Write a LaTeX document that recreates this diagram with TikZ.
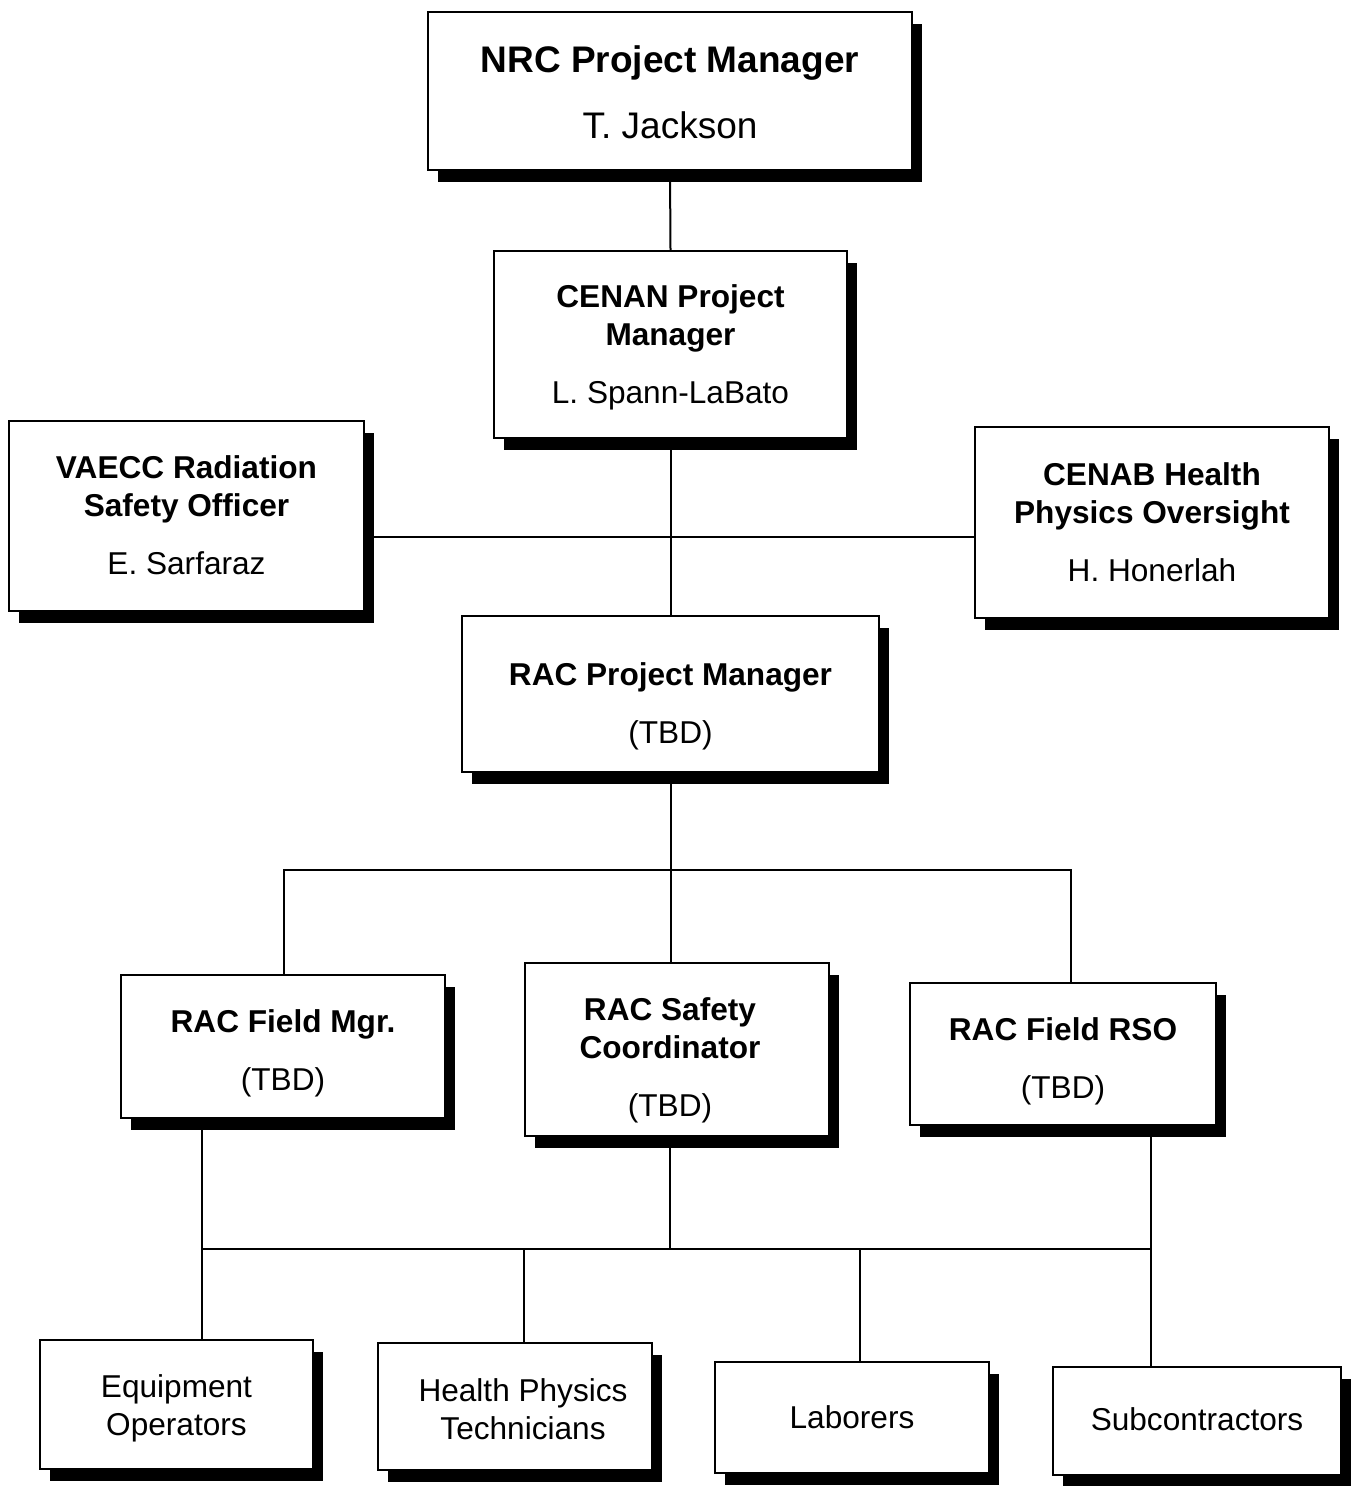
\documentclass[tikz,border=0pt]{standalone}
\usepackage{fontspec}
\setmainfont{Liberation Sans}
\usetikzlibrary{shadows}
\newcommand{\boxtext}[3]{\raisebox{#1}[\height][\depth]{\hspace*{#2}\begin{tabular}{@{}c@{}}#3\end{tabular}}}
\begin{document}
\begin{tikzpicture}[x=0.5pt,y=-0.5pt,
  box/.style={draw=black, line width=0.9pt, fill=white, inner sep=0pt, align=center,
    font=\fontsize{15.8}{19}\selectfont,
    drop shadow={shadow xshift=5pt, shadow yshift=-6pt, fill=black, opacity=1}},
  wire/.style={line width=1pt}]
\useasboundingbox (0,0) rectangle (1355,1486);
\fill[white] (0,0) rectangle (1355,1486);
% boxes
\node[box, minimum width=242pt, minimum height=79pt, font=\fontsize{18.5}{22}\selectfont] (nrc) at (670,91)
  {\boxtext{-3pt}{0pt}{\textbf{NRC Project Manager}\\[11pt]T. Jackson}};
\node[box, minimum width=176.5pt, minimum height=93.5pt] (cenan) at (670.5,344.5)
  {\boxtext{-1.5pt}{0pt}{\textbf{CENAN Project}\\\textbf{Manager}\\[10pt]L. Spann-LaBato}};
\node[box, minimum width=177.5pt, minimum height=95pt] (vaecc) at (186.5,516)
  {\boxtext{-1.5pt}{0pt}{\textbf{VAECC Radiation}\\\textbf{Safety Officer}\\[10pt]E. Sarfaraz}};
\node[box, minimum width=177pt, minimum height=95.5pt] (cenab) at (1152,522.5)
  {\boxtext{-1.5pt}{0pt}{\textbf{CENAB Health}\\\textbf{Physics Oversight}\\[10pt]H. Honerlah}};
\node[box, minimum width=208.5pt, minimum height=78pt] (racpm) at (670.5,694)
  {\boxtext{-6.5pt}{0pt}{\textbf{RAC Project Manager}\\[10pt](TBD)}};
\node[box, minimum width=162pt, minimum height=71.5pt] (fieldmgr) at (283,1046.5)
  {\boxtext{-3.5pt}{0pt}{\textbf{RAC Field Mgr.}\\[10pt](TBD)}};
\node[box, minimum width=152pt, minimum height=86.5pt] (safety) at (677,1049.5)
  {\boxtext{-5.5pt}{0pt}{\textbf{RAC Safety}\\\textbf{Coordinator}\\[10pt](TBD)}\hspace*{7pt}};
\node[box, minimum width=153pt, minimum height=71pt] (rso) at (1063,1054)
  {\boxtext{-4pt}{0pt}{\textbf{RAC Field RSO}\\[10pt](TBD)}};
\node[box, minimum width=136.5pt, minimum height=64.5pt] (equip) at (176.5,1404.5)
  {\boxtext{-2pt}{0pt}{Equipment\\Operators}};
\node[box, minimum width=137pt, minimum height=63.5pt] (hpt) at (515,1406.5)
  {\boxtext{-3pt}{8pt}{Health Physics\\Technicians}};
\node[box, minimum width=137pt, minimum height=55.5pt] (lab) at (852,1417.5)
  {Laborers};
\node[box, minimum width=144pt, minimum height=54pt] (sub) at (1197,1421)
  {\boxtext{-1pt}{0pt}{Subcontractors}};
% junction coordinates
\coordinate (hline) at (670,537);
\coordinate (split) at (670,870);
\coordinate (xl) at (284,870);
\coordinate (xr) at (1071,870);
\coordinate (bus) at (670,1249);
\coordinate (b1) at (202,1249);
\coordinate (b2) at (524,1249);
\coordinate (b3) at (860,1249);
\coordinate (b4) at (1151,1249);
% connectors
\draw[wire] (nrc.south) -- (cenan.north);
\draw[wire] (cenan.south) -- (cenan.south |- racpm.north);
\draw[wire] (vaecc.east |- hline) -- (cenab.west |- hline);
\draw[wire] (racpm.south) -- (racpm.south |- safety.north);
\draw[wire] (xl |- fieldmgr.north) -- (xl) -- (xr) -- (xr |- rso.north);
\draw[wire] (b1 |- fieldmgr.south) -- (b1 |- equip.north);
\draw[wire] (bus |- safety.south) -- (bus);
\draw[wire] (b4 |- rso.south) -- (b4 |- sub.north);
\draw[wire] (b1) -- (b4);
\draw[wire] (b2) -- (b2 |- hpt.north);
\draw[wire] (b3) -- (b3 |- lab.north);
\end{tikzpicture}
\end{document}
